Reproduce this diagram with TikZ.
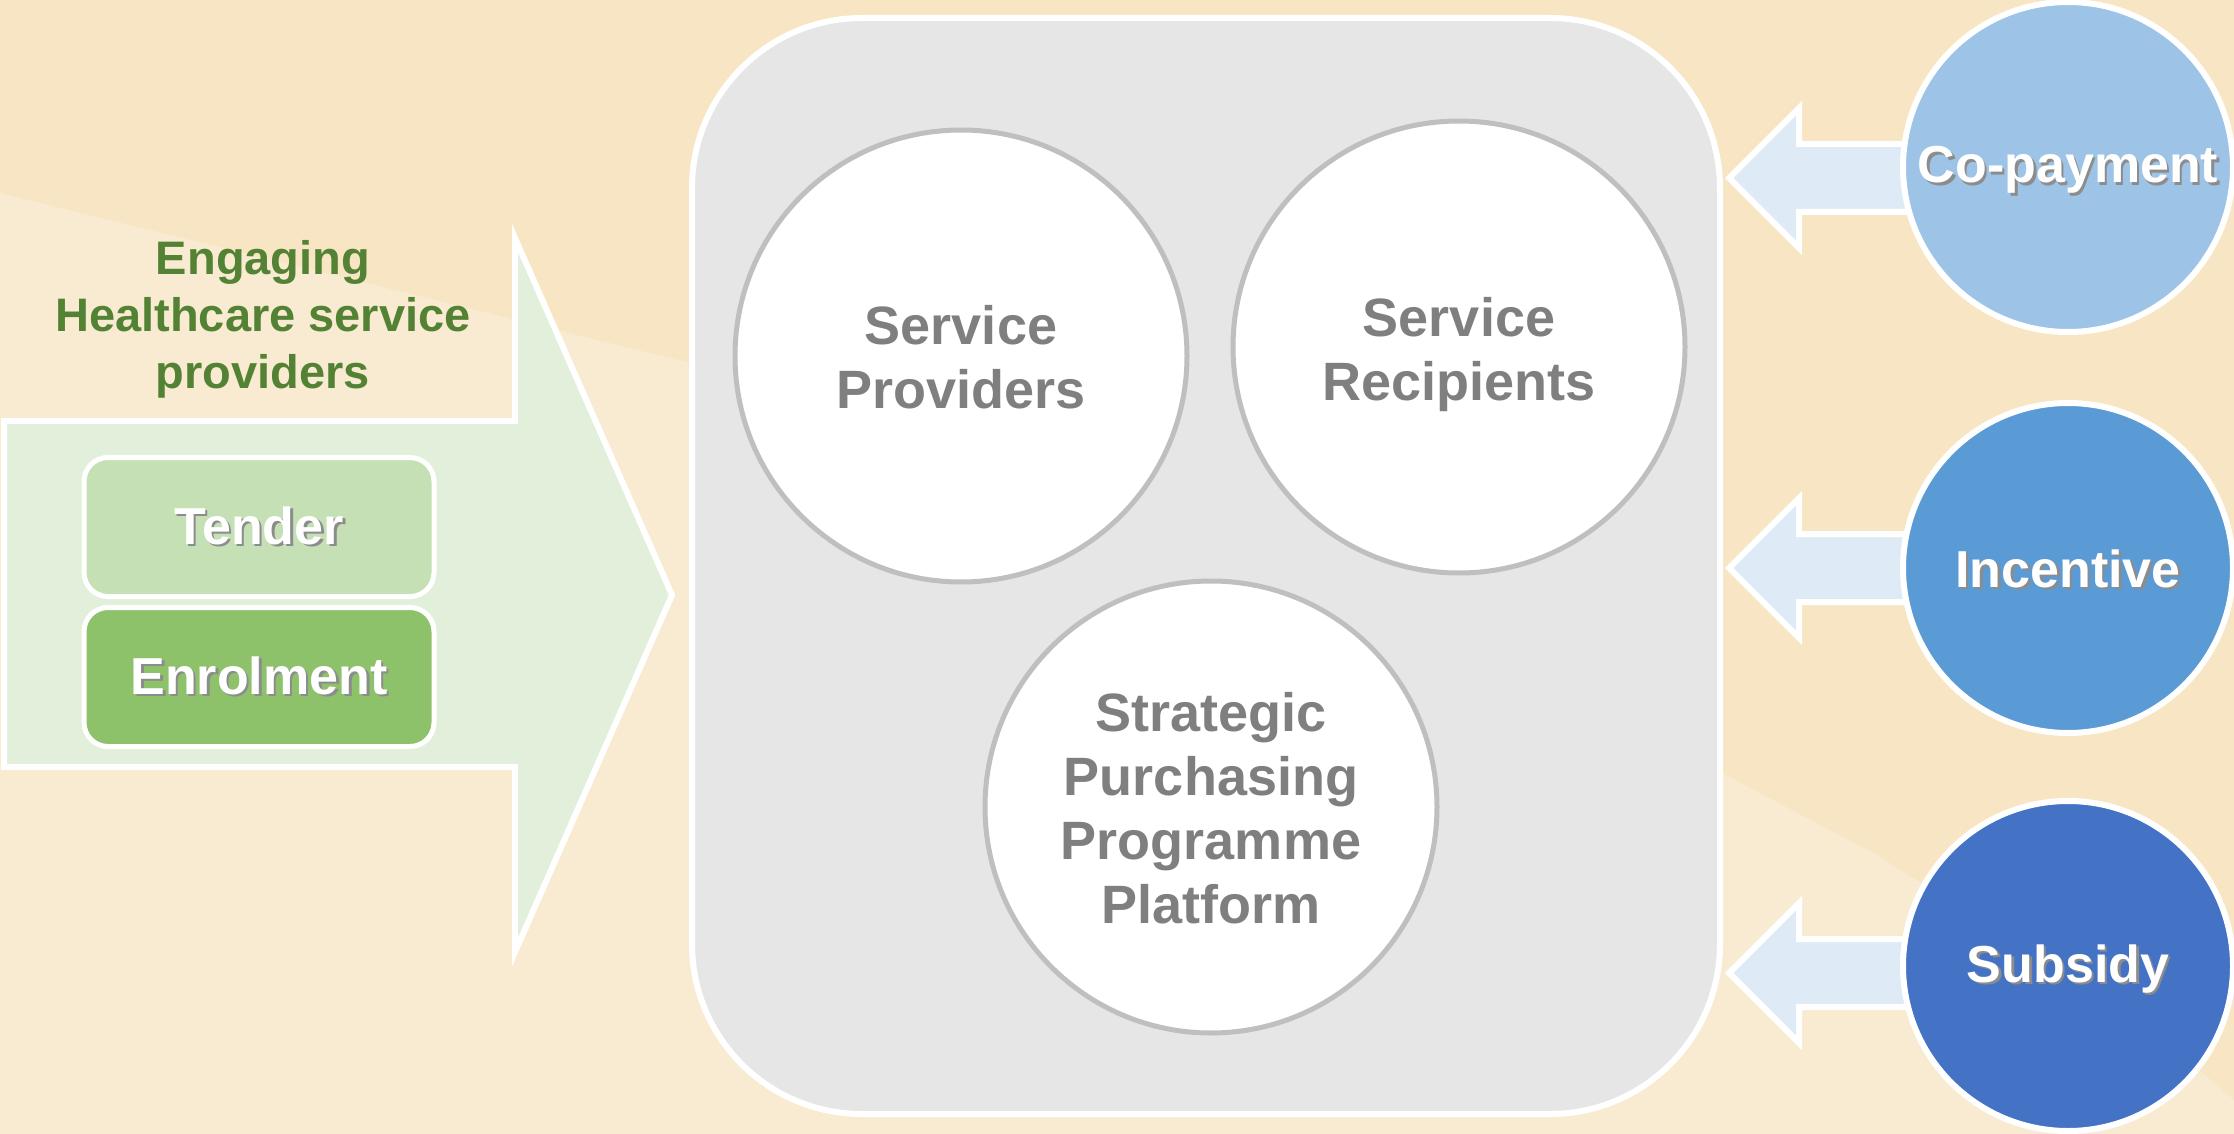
\documentclass[tikz,border=0pt]{standalone}
\usepackage{fontspec}
\setmainfont{Liberation Sans}
\definecolor{bgdark}{HTML}{F7E5C3}
\definecolor{bglight}{HTML}{F9EBD2}
\definecolor{arrowgreen}{HTML}{E2EFDA}
\definecolor{tendergreen}{HTML}{C5E0B4}
\definecolor{enrolgreen}{HTML}{8DC26B}
\definecolor{textgreen}{HTML}{548235}
\definecolor{boxgray}{HTML}{E6E6E6}
\definecolor{ringgray}{HTML}{BFBFBF}
\definecolor{labelgray}{HTML}{7F7F7F}
\definecolor{bluea}{HTML}{9DC3E6}
\definecolor{blueb}{HTML}{5B9BD5}
\definecolor{bluec}{HTML}{4472C4}
\definecolor{arrowblue}{HTML}{DEEBF7}
\newcommand{\shtext}[1]{\leavevmode\rlap{\kern1.3pt\raisebox{-1.3pt}{\textcolor{black!45}{#1}}}#1}
\newcommand{\smallarrow}[1]{%
  \draw[white, line width=3pt, fill=arrowblue, line join=miter]
    (1729,#1) -- (1799,#1-70) -- (1799,#1-34) -- (1930,#1-34) -- (1930,#1+34)
    -- (1799,#1+34) -- (1799,#1+70) -- cycle;}
\tikzset{
  inner/.style={circle, draw=ringgray, line width=2.5pt, fill=white,
    minimum size=226pt, inner sep=0pt},
  innertext/.style={align=center, text=labelgray, inner sep=0pt,
    font=\fontsize{27}{32}\selectfont\bfseries},
  outer/.style={circle, draw=white, line width=3pt, minimum size=165pt,
    inner sep=0pt},
  outertext/.style={text=white, inner sep=0pt,
    font=\fontsize{26}{30}\selectfont\bfseries},
  pill/.style={rounded corners=12pt, draw=white, line width=2.5pt,
    minimum width=175pt, minimum height=69.5pt, inner sep=0pt, text=white,
    font=\fontsize{26}{30}\selectfont\bfseries},
}
\begin{document}
\begin{tikzpicture}[x=0.5pt,y=-0.5pt]
\useasboundingbox (0,0) rectangle (2234,1134);
\fill[bgdark] (0,0) rectangle (2234,1134);
\fill[bglight] (0,193) -- (691,363) -- (1720,772) -- (1877,855) -- (1921,883)
  -- (2205,1075) -- (2234,1100) -- (2234,1134) -- (0,1134) -- cycle;

% left big arrow
\draw[white, line width=3pt, fill=arrowgreen, line join=miter]
  (4,421) -- (515,421) -- (515,238) -- (672,595) -- (515,952) -- (515,767) -- (4,767) -- cycle;
\node[align=center, text=textgreen, font=\fontsize{23.5}{28.5}\selectfont\bfseries]
  (eng) at (263,319) {Engaging\\Healthcare service\\providers};
\node[pill, fill=tendergreen] (tender) at (259,527) {\shtext{Tender}};
\node[pill, fill=enrolgreen] (enrol) at (259,677) {\shtext{Enrolment}};

% central box
\draw[white, line width=3pt, fill=boxgray, rounded corners=85pt]
  (692,18) rectangle (1720,1114);
\node[inner] (sp) at (961,356) {};
\node[innertext] (spt) at (961,357) {Service\\Providers};
\node[inner] (sr) at (1459,347) {};
\node[innertext] (srt) at (1459,355) {Service\\Recipients};
\node[inner] (spp) at (1211,807) {};
\node[innertext] (sppt) at (1211,808) {Strategic\\Purchasing\\Programme\\Platform};

% right side arrows and circles
\smallarrow{178}
\smallarrow{568}
\smallarrow{973}
\node[outer, fill=bluea] (copay) at (2068,167) {};
\node[outertext] (copayt) at (2068,171) {\shtext{Co-payment}};
\node[outer, fill=blueb] (incent) at (2068,568) {};
\node[outertext] (incentt) at (2068,570) {\shtext{Incentive}};
\node[outer, fill=bluec] (subsidy) at (2068,966) {};
\node[outertext] (subsidyt) at (2068,970) {\shtext{Subsidy}};
\end{tikzpicture}
\end{document}
